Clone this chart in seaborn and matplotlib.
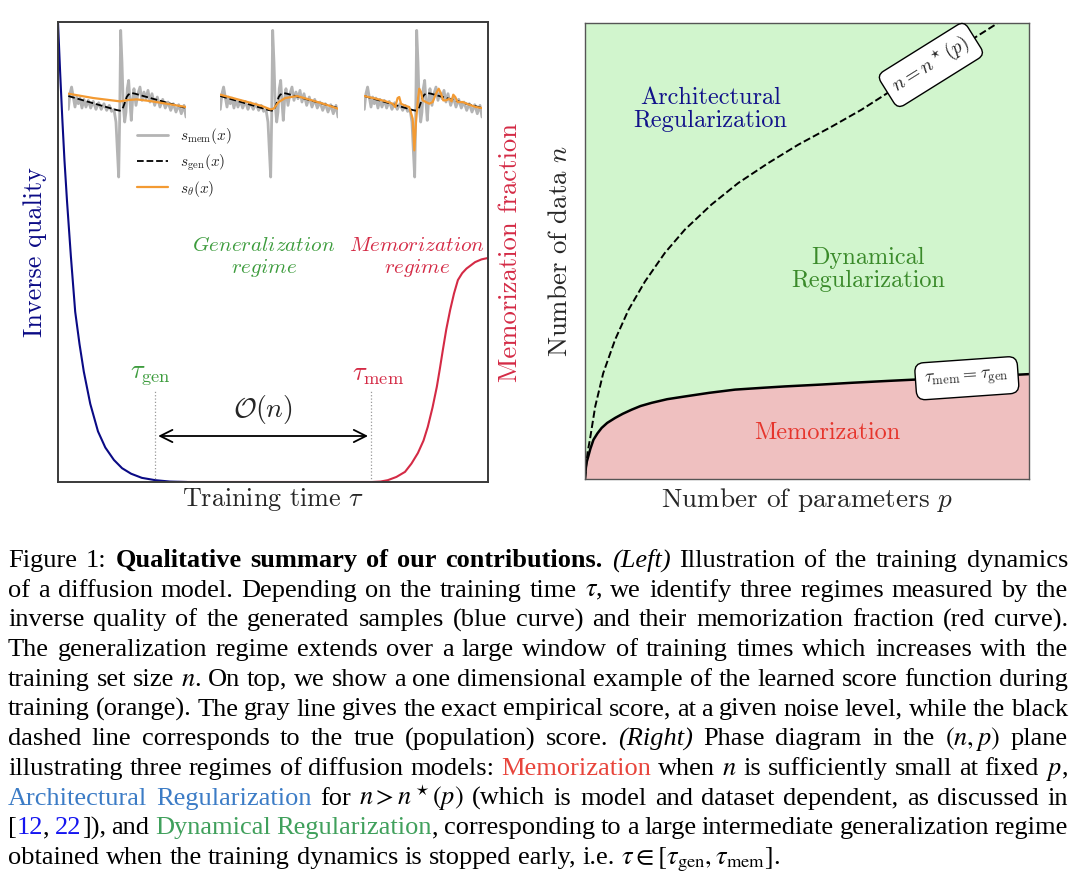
import numpy as np
import pandas as pd
import matplotlib
matplotlib.use("Agg")
import matplotlib.pyplot as plt
from matplotlib.lines import Line2D
import seaborn as sns

# ---------------- data ----------------
# Left panel: inverse quality (blue) and memorization fraction (red)
blue_t = [0.0, 0.005, 0.010, 0.015, 0.021, 0.030, 0.040, 0.050, 0.060, 0.075,
          0.093, 0.110, 0.130, 0.149, 0.170, 0.195, 0.226, 0.260, 0.300]
blue_q = [1.00, 0.89, 0.79, 0.70, 0.61, 0.49, 0.37, 0.30, 0.24, 0.17,
          0.11, 0.075, 0.048, 0.030, 0.018, 0.009, 0.004, 0.001, 0.0]
red_t = [0.28, 0.40, 0.55, 0.65, 0.70, 0.73, 0.75, 0.767, 0.787, 0.807, 0.822,
         0.837, 0.850, 0.860, 0.871, 0.881, 0.888, 0.895, 0.903, 0.912, 0.921,
         0.930, 0.940, 0.950, 0.960, 0.970, 0.985, 1.0]
red_m = [0.0, 0.0, 0.0, 0.0, 0.0, 0.0, 0.001, 0.004, 0.011, 0.022, 0.040,
         0.063, 0.090, 0.120, 0.162, 0.207, 0.246, 0.287, 0.332, 0.374, 0.410,
         0.439, 0.454, 0.464, 0.471, 0.478, 0.484, 0.487]

# Insets: empirical score (gray), population score (black dashed),
# learned score (orange) at three training times
gray_u = [0.0, 0.014, 0.028, 0.042, 0.057, 0.071, 0.085, 0.099, 0.116, 0.133,
          0.150, 0.170, 0.190, 0.212, 0.235, 0.258, 0.280, 0.303, 0.326, 0.348,
          0.368, 0.388, 0.405, 0.416, 0.428, 0.436, 0.445, 0.456, 0.467, 0.479,
          0.490, 0.501, 0.513, 0.524, 0.535, 0.547, 0.558, 0.575, 0.592, 0.609,
          0.626, 0.643, 0.660, 0.677, 0.694, 0.711, 0.734, 0.756, 0.779, 0.802,
          0.824, 0.847, 0.870, 0.892, 0.915, 0.938, 0.960, 0.983, 1.0]
gray_v = [-0.12, 0.35, 0.55, 0.25, -0.05, 0.25, 0.05, 0.22, -0.08, 0.18,
          -0.05, 0.15, -0.08, 0.12, -0.12, 0.08, -0.12, 0.05, -0.15, 0.0,
          -0.18, -0.12, -0.50, -1.30, -2.15, -0.50, 2.25, 1.30, 0.0, -0.50,
          -0.20, 0.50, 0.75, 0.10, -0.45, 0.20, 0.50, 0.0, 0.35, 0.55,
          0.15, 0.40, 0.20, 0.45, 0.10, 0.35, 0.0, 0.25, -0.05, 0.18,
          -0.08, 0.10, -0.15, 0.05, -0.20, 0.02, -0.25, 0.0, -0.35]
gen_u = [0.0, 0.411, 0.439, 0.453, 0.467, 0.482, 0.496, 0.510, 0.524, 0.538, 0.567, 1.0]
gen_v = [0.28, -0.14, -0.16, -0.13, -0.05, 0.10, 0.25, 0.32, 0.35, 0.37, 0.35, -0.08]
orange1_u = [0.0, 0.212, 0.326, 0.439, 0.510, 0.581, 0.694, 0.836, 1.0]
orange1_v = [0.35, 0.22, 0.17, 0.12, 0.16, 0.18, 0.13, 0.05, -0.05]
orange2_u = [0.0, 0.212, 0.354, 0.425, 0.453, 0.496, 0.552, 0.652, 0.779, 0.892, 1.0]
orange2_v = [0.32, 0.12, -0.02, -0.12, -0.10, 0.10, 0.22, 0.28, 0.15, 0.03, -0.10]
orange3_u = [0.0, 0.099, 0.184, 0.241, 0.263, 0.283, 0.297, 0.312, 0.340, 0.382,
             0.411, 0.425, 0.439, 0.456, 0.467, 0.482, 0.496, 0.524, 0.552, 0.581,
             0.609, 0.632, 0.652, 0.671, 0.694, 0.722, 0.742, 0.756, 0.773, 0.793,
             0.836, 0.892, 0.949, 1.0]
orange3_v = [0.28, 0.20, 0.12, 0.05, -0.05, 0.22, 0.25, 0.05, 0.0, -0.05,
             -0.40, -1.35, -0.50, 0.20, 0.50, 0.40, 0.15, 0.10, 0.05, 0.10,
             0.35, 0.50, 0.35, 0.15, 0.15, 0.20, 0.12, 0.32, 0.25, 0.10,
             0.10, 0.02, -0.05, -0.08]
legend_labels = [r"$s_{\rm mem}(x)$", r"$s_{\rm gen}(x)$", r"$s_\theta(x)$"]

# Right panel: phase boundaries
mem_p = [0.0, 0.002, 0.004, 0.0075, 0.012, 0.019, 0.028, 0.0375, 0.050, 0.068,
         0.085, 0.105, 0.125, 0.150, 0.185, 0.225, 0.280, 0.338, 0.400, 0.450,
         0.530, 0.601, 0.680, 0.743, 0.820, 0.900, 1.0]
mem_n = [0.0, 0.025, 0.038, 0.050, 0.066, 0.086, 0.100, 0.112, 0.123, 0.134,
         0.143, 0.152, 0.160, 0.167, 0.175, 0.181, 0.189, 0.196, 0.200, 0.203,
         0.207, 0.211, 0.215, 0.218, 0.221, 0.225, 0.230]
star_p = [0.0, 0.003, 0.006, 0.011, 0.023, 0.041, 0.068, 0.098, 0.135, 0.180,
          0.225, 0.285, 0.345, 0.413, 0.480, 0.556, 0.623, 0.687, 0.779, 0.862,
          0.930]
star_n = [0.0, 0.035, 0.060, 0.086, 0.159, 0.232, 0.306, 0.371, 0.433, 0.496,
          0.547, 0.602, 0.649, 0.693, 0.733, 0.773, 0.810, 0.850, 0.907, 0.958,
          1.0]

# ---------------- style ----------------
sns.set_theme(style="white")
plt.rcParams["font.family"] = ["cmr10", "DejaVu Serif"]
plt.rcParams["mathtext.fontset"] = "cm"
plt.rcParams["axes.formatter.use_mathtext"] = True

NAVY = "#0a0a85"
CRIMSON = "#d42a45"
GREEN = "#3d9c3d"
GRAY = "#b4b4b4"
ORANGE = "#f39a32"

W, H = 1080, 881
fig = plt.figure(figsize=(W / 100, H / 100), dpi=100)


def fr(px, py, w, h):
    return [px / W, 1 - (py + h) / H, w / W, h / H]


# ---------------- left panel ----------------
axL = fig.add_axes(fr(58, 22, 430, 460))
df_blue = pd.DataFrame({"t": blue_t, "q": blue_q})
df_red = pd.DataFrame({"t": red_t, "m": red_m})
sns.lineplot(data=df_red, x="t", y="m", ax=axL, color=CRIMSON, lw=1.5,
             estimator=None, sort=False, legend=False)
sns.lineplot(data=df_blue, x="t", y="q", ax=axL, color=NAVY, lw=1.5,
             estimator=None, sort=False, legend=False)
axL.set_xlim(0, 1)
axL.set_ylim(0, 1)
axL.set_xticks([])
axL.set_yticks([])
axL.set_xlabel("")
axL.set_ylabel("")
for s in axL.spines.values():
    s.set_color("#3a3a3a")
    s.set_linewidth(1.4)

tau_gen, tau_mem = 0.2256, 0.728
axL.plot([tau_gen, tau_gen], [0, 0.2], ls=":", color="#999999", lw=0.9)
axL.plot([tau_mem, tau_mem], [0, 0.2], ls=":", color="#999999", lw=0.9)
axL.annotate("", xy=(0.233, 0.10), xytext=(0.721, 0.10),
             arrowprops=dict(arrowstyle="<->", lw=1.3, color="black",
                             mutation_scale=22, shrinkA=0, shrinkB=0))
axL.text(0.477, 0.157, r"$\mathcal{O}(n)$", ha="center", va="center", fontsize=20)
axL.text(0.214, 0.233, r"$\tau_{\rm gen}$", ha="center", va="center", fontsize=19, color=GREEN)
axL.text(0.744, 0.233, r"$\tau_{\rm mem}$", ha="center", va="center", fontsize=19, color=CRIMSON)
axL.text(0.479, 0.489, "$\\mathit{Generalization}$\n$\\mathit{regime}$", ha="center",
         va="center", fontsize=15.2, color=GREEN, linespacing=1.15)
axL.text(0.835, 0.489, "$\\mathit{Memorization}$\n$\\mathit{regime}$", ha="center",
         va="center", fontsize=15.2, color=CRIMSON, linespacing=1.15)
axL.text(0.5, -0.039, r"Training time $\tau$", transform=axL.transAxes,
         ha="center", va="center", fontsize=18.8)
axL.text(-0.053, 0.5, "Inverse quality", transform=axL.transAxes, rotation=90,
         ha="center", va="center", fontsize=18.8, color=NAVY)
axL.text(1.051, 0.5, "Memorization fraction", transform=axL.transAxes, rotation=90,
         ha="center", va="center", fontsize=19.2, color=CRIMSON)

# insets
orange_sets = [(orange1_u, orange1_v), (orange2_u, orange2_v), (orange3_u, orange3_v)]
inset_left = [68.3, 220.3, 364.3]
for (ou, ov), lx in zip(orange_sets, inset_left):
    ax_in = fig.add_axes(fr(lx, 28.7, 117.7, 150))
    ax_in.axis("off")
    sns.lineplot(x=gray_u, y=gray_v, ax=ax_in, color=GRAY, lw=2.0,
                 estimator=None, sort=False, legend=False)
    sns.lineplot(x=gen_u, y=gen_v, ax=ax_in, color="black", lw=1.3, linestyle="--",
                 estimator=None, sort=False, legend=False)
    sns.lineplot(x=ou, y=ov, ax=ax_in, color=ORANGE, lw=1.6,
                 estimator=None, sort=False, legend=False)
    ax_in.set_xlim(0, 1)
    ax_in.set_ylim(-2.2, 2.3)

handles = [Line2D([], [], color=GRAY, lw=2.0),
           Line2D([], [], color="black", lw=1.3, ls="--"),
           Line2D([], [], color=ORANGE, lw=1.6)]
fig.legend(handles, legend_labels, loc="upper left",
           bbox_to_anchor=(137 / W, 1 - 126 / H), frameon=False, fontsize=11,
           handlelength=2.0, labelspacing=0.4, borderpad=0, borderaxespad=0,
           handletextpad=0.8)

# ---------------- right panel ----------------
axR = fig.add_axes(fr(585, 23, 444, 456))
axR.fill_between(mem_p, mem_n, 1.0, color="#d1f5cd", lw=0)
axR.fill_between(mem_p, 0.0, mem_n, color="#efc0c0", lw=0)
sns.lineplot(x=mem_p, y=mem_n, ax=axR, color="black", lw=1.8,
             estimator=None, sort=False, legend=False)
sns.lineplot(x=star_p, y=star_n, ax=axR, color="black", lw=1.4, linestyle="--",
             estimator=None, sort=False, legend=False)
axR.set_xlim(0, 1)
axR.set_ylim(0, 1)
axR.set_xticks([])
axR.set_yticks([])
axR.set_xlabel("")
axR.set_ylabel("")
for s in axR.spines.values():
    s.set_color("#555555")
    s.set_linewidth(1.0)

axR.text(0.283, 0.811, "Architectural\nRegularization", ha="center", va="center",
         fontsize=17.5, color="#12128a", linespacing=1.05)
axR.text(0.637, 0.46, "Dynamical\nRegularization", ha="center", va="center",
         fontsize=17.5, color="#3a8a2a", linespacing=1.05)
axR.text(0.545, 0.101, "Memorization", ha="center", va="center",
         fontsize=17.5, color="#e6352c")
axR.text(0.779, 0.908, r"$n = n^\star(p)$", rotation=32, ha="center", va="center",
         rotation_mode="anchor", fontsize=14,
         bbox=dict(boxstyle="round,pad=0.4", fc="white", ec="black", lw=1.0))
axR.text(0.86, 0.221, r"$\tau_{\rm mem} = \tau_{\rm gen}$", rotation=4, ha="center",
         va="center", rotation_mode="anchor", fontsize=13,
         bbox=dict(boxstyle="round,pad=0.5", fc="white", ec="black", lw=1.0))
axR.text(0.5, -0.046, r"Number of parameters $p$", transform=axR.transAxes,
         ha="center", va="center", fontsize=19.6)
axR.text(-0.056, 0.5, r"Number of data $n$", transform=axR.transAxes, rotation=90,
         ha="center", va="center", fontsize=19.3)

# ---------------- caption ----------------
K = "black"
C_RED = "#e8453c"
C_BLUE = "#3c7cc6"
C_GREEN = "#40a05c"
C_CIT = "#1515f0"
caption_lines = [
    [("Figure 1: ", "n", K), ("Qualitative summary of our contributions.", "b", K),
     (" (Left)", "i", K), (" Illustration of the training dynamics", "n", K)],
    [("of a diffusion model. Depending on the training time $\\tau$, we identify three regimes measured by the", "n", K)],
    [("inverse quality of the generated samples (blue curve) and their memorization fraction (red curve).", "n", K)],
    [("The generalization regime extends over a large window of training times which increases with the", "n", K)],
    [("training set size $n$. On top, we show a one dimensional example of the learned score function during", "n", K)],
    [("training (orange). The gray line gives the exact empirical score, at a given noise level, while the black", "n", K)],
    [("dashed line corresponds to the true (population) score. ", "n", K), ("(Right)", "i", K),
     (" Phase diagram in the $(n,p)$ plane", "n", K)],
    [("illustrating three regimes of diffusion models: ", "n", K), ("Memorization", "n", C_RED),
     (" when $n$ is sufficiently small at fixed $p$,", "n", K)],
    [("Architectural Regularization", "n", C_BLUE),
     (" for $n > n^\\star(p)$ (which is model and dataset dependent, as discussed in", "n", K)],
    [("[", "n", K), ("12", "n", C_CIT), (", ", "n", K), ("22", "n", C_CIT), ("]), and ", "n", K),
     ("Dynamical Regularization", "n", C_GREEN),
     (", corresponding to a large intermediate generalization regime", "n", K)],
    [("obtained when the training dynamics is stopped early, i.e. $\\tau \\in [\\tau_{\\rm gen}, \\tau_{\\rm mem}]$.", "n", K)],
]

renderer = fig.canvas.get_renderer()


def props(kind, color, fs):
    d = dict(fontsize=fs, family=["Liberation Serif", "DejaVu Serif"],
             math_fontfamily="stix", color=color)
    if kind == "b":
        d["fontweight"] = "bold"
    if kind == "i":
        d["fontstyle"] = "italic"
    return d


def tokenize(segs):
    words = [[]]
    for text, kind, color in segs:
        buf = ""
        inmath = False
        for ch in text:
            if ch == "$":
                inmath = not inmath
            if ch == " " and not inmath:
                if buf:
                    words[-1].append((buf, kind, color))
                    buf = ""
                if words[-1]:
                    words.append([])
            else:
                buf += ch
        if buf:
            words[-1].append((buf, kind, color))
    return [w for w in words if w]


def width(text, pr):
    t = fig.text(0, 0, text, **pr)
    w = t.get_window_extent(renderer).width
    t.remove()
    return w


X0, X1 = 8.0, 1068.0
target = X1 - X0
fs = 19.0
# shrink font if a justified line would not fit
for _ in range(3):
    sp = width("x x", props("n", K, fs)) - width("xx", props("n", K, fs))
    maxw = 0
    for segs in caption_lines[:-1]:
        words = tokenize(segs)
        tot = sum(width(p[0], props(p[1], p[2], fs)) for w in words for p in w)
        tot += sp * 0.8 * (len(words) - 1)
        maxw = max(maxw, tot)
    if maxw > target:
        fs *= target / maxw
    else:
        break

sp = width("x x", props("n", K, fs)) - width("xx", props("n", K, fs))
base0, dy = 567.0, 29.7
for i, segs in enumerate(caption_lines):
    words = tokenize(segs)
    wl = [[width(p[0], props(p[1], p[2], fs)) for p in w] for w in words]
    tot = sum(sum(x) for x in wl)
    ngap = len(words) - 1
    if i < len(caption_lines) - 1 and ngap > 0:
        gap = (target - tot) / ngap
    else:
        gap = sp
    x = X0
    yb = base0 + i * dy
    for w, ws in zip(words, wl):
        for p, pw in zip(w, ws):
            fig.text(x / W, 1 - yb / H, p[0], ha="left", va="baseline",
                     **props(p[1], p[2], fs))
            x += pw
        x += gap

fig.savefig("out.png", dpi=100)
